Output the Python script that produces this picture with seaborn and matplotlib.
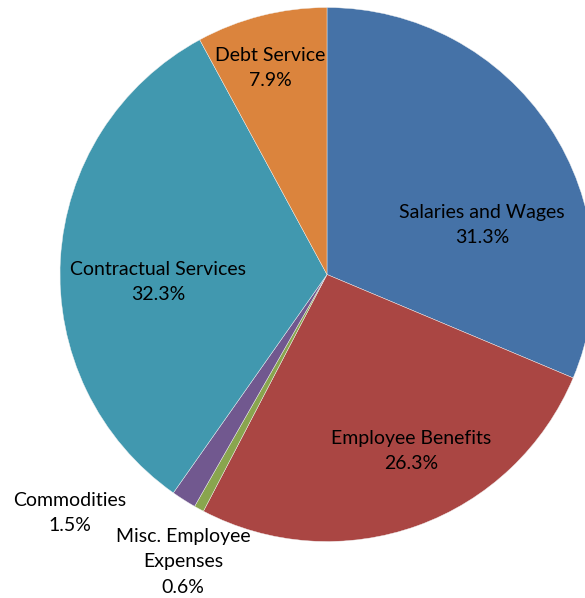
import matplotlib
matplotlib.use("Agg")
import matplotlib.pyplot as plt
import seaborn as sns

categories = ["Salaries and Wages", "Employee Benefits", "Misc. Employee\nExpenses",
              "Commodities", "Contractual Services", "Debt Service"]
shares = [31.3, 26.3, 0.6, 1.5, 32.3, 7.9]
colors = ["#4572A7", "#AA4643", "#89A54E", "#71588F", "#4198AF", "#DB843D"]

# label anchor points in pixels of the 585x598 canvas (centre of each text block)
label_px = [(482, 225), (411, 451), (183, 562), (70, 513), (158, 282), (270, 68)]

sns.set_theme(style="white")
plt.rcParams["font.family"] = ["Lato", "DejaVu Sans"]

W, H = 585, 598
cx, cy, R = 327, 274.5, 267.0

fig = plt.figure(figsize=(W / 100, H / 100), dpi=100)
ax = fig.add_axes([0, 0, 1, 1])

wedges, _ = ax.pie(shares, colors=colors, startangle=90, counterclock=False,
                   radius=1.0, center=(0, 0),
                   wedgeprops=dict(linewidth=0.3, edgecolor="#f2f2f2"))

ax.set_xlim(-cx / R, (W - cx) / R)
ax.set_ylim(-(H - cy) / R, cy / R)
ax.set_axis_off()

for name, val, (px, py) in zip(categories, shares, label_px):
    ax.text((px - cx) / R, (cy - py) / R, f"{name}\n{val:.1f}%",
            ha="center", va="center", fontsize=14, color="#000000",
            linespacing=1.62)

fig.savefig("out.png", dpi=100)
